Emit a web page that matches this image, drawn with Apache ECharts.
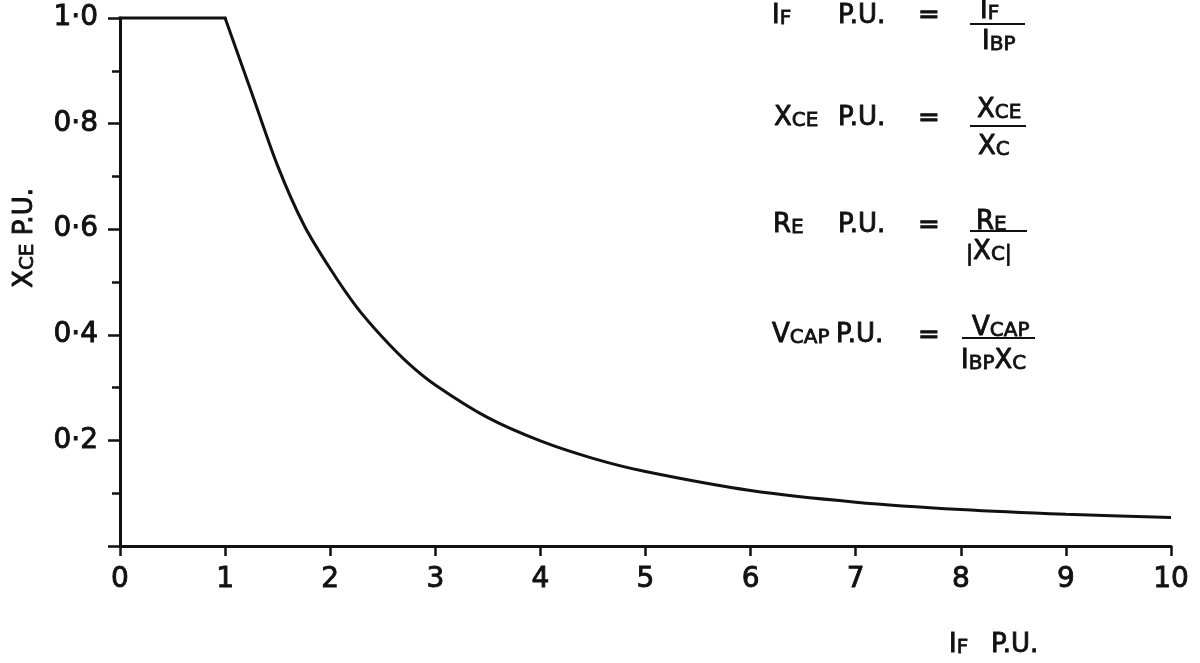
<!DOCTYPE html>
<html>
<head>
<meta charset="utf-8">
<script src="https://cdn.jsdelivr.net/npm/echarts@6/dist/echarts.min.js"></script>
<style>
html,body{margin:0;padding:0;background:#fff;}
#chart{width:1200px;height:663px;}
</style>
</head>
<body>
<div id="chart"></div>
<script>
// ---- data ----
const ifPU = [0, 1, 1.25, 1.5, 1.75, 2, 2.25, 2.5, 2.75, 3, 3.5, 4, 4.5, 5, 6, 7, 8, 9, 10];
const xcePU = [1, 1, 0.86, 0.72, 0.608, 0.525, 0.453, 0.395, 0.345, 0.305, 0.243, 0.199, 0.166, 0.141, 0.105, 0.083, 0.069, 0.060, 0.054];
const xTickLabels = ['0', '1', '2', '3', '4', '5', '6', '7', '8', '9', '10'];
const yTickLabels = ['', '0·2', '0·4', '0·6', '0·8', '1·0'];

const FONT = '"DejaVu Sans", sans-serif';
const INK = '#111';
const BIG = 26, SMALL = 20;
const rich = {
  b: {fontSize: BIG, fontFamily: FONT, fill: INK, verticalAlign: 'bottom', lineHeight: 30, stroke: INK, lineWidth: 0.9},
  s: {fontSize: SMALL, fontFamily: FONT, fill: INK, verticalAlign: 'bottom', lineHeight: 30, stroke: INK, lineWidth: 0.8},
  p: {fontSize: 21, fontFamily: FONT, fill: INK, verticalAlign: 'bottom', lineHeight: 30, stroke: INK, lineWidth: 0.8}
};

function txt(str, x, y) {
  return {
    type: 'text', x: x, y: y, silent: true,
    style: {text: str, rich: rich, fill: INK, align: 'left', verticalAlign: 'middle', fontSize: BIG, fontFamily: FONT}
  };
}
function bar(x1, x2, y) {
  return {type: 'line', silent: true, shape: {x1: x1, y1: y, x2: x2, y2: y}, style: {stroke: INK, lineWidth: 2.2}};
}

const graphics = [
  // row 1
  txt('{b|I}{s|F}', 772, 14), txt('{b|P.U.}', 838, 14), txt('{b|=}', 918, 14),
  txt('{b|I}{s|F}', 980, 9), bar(970, 1025, 24), txt('{b|I}{s|BP}', 982, 40),
  // row 2
  txt('{b|X}{s|CE}', 774, 116), txt('{b|P.U.}', 838, 116), txt('{b|=}', 918, 117),
  txt('{b|X}{s|CE}', 977, 108), bar(970, 1026, 126), txt('{b|X}{s|C}', 978, 145),
  // row 3
  txt('{b|R}{s|E}', 773, 223), txt('{b|P.U.}', 838, 223), txt('{b|=}', 918, 224),
  txt('{b|R}{s|E}', 976, 220), bar(970, 1027, 231), txt('{p||}{b|X}{s|C}{p||}', 966, 250),
  // row 4
  txt('{b|V}{s|CAP}', 772, 333), txt('{b|P.U.}', 836, 333), txt('{b|=}', 918, 334),
  txt('{b|V}{s|CAP}', 972, 326), bar(962, 1035, 338), txt('{b|I}{s|BP}{b|X}{s|C}', 961, 359),
  // x-axis title
  txt('{b|I}{s|F}', 949, 643), txt('{b|P.U.}', 991, 643),
  // y-axis title (rotated)
  {
    type: 'text', x: 23, y: 238, rotation: Math.PI / 2, silent: true,
    style: {text: '{b|X}{s|CE} {b|P.U.}', rich: rich, fill: INK, align: 'center', verticalAlign: 'middle', fontSize: BIG, fontFamily: FONT}
  }
];

const pts = ifPU.map(function (x, i) { return [x, xcePU[i]]; });

const chart = echarts.init(document.getElementById('chart'), null, {renderer: 'canvas'});
chart.setOption({
  backgroundColor: '#fff',
  animation: false,
  grid: {left: 120, right: 29, top: 18, bottom: 117, containLabel: false, outerBoundsMode: 'none'},
  xAxis: {
    type: 'value', min: 0, max: 10, interval: 1,
    axisLine: {show: true, onZero: true, lineStyle: {color: INK, width: 3}},
    axisTick: {show: true, length: 10, lineStyle: {color: INK, width: 2.5}},
    splitLine: {show: false},
    axisLabel: {
      margin: 20, fontSize: 28, fontFamily: FONT, color: INK,
      textBorderColor: INK, textBorderWidth: 0.9,
      formatter: function (v) { return xTickLabels[Math.round(v)]; }
    }
  },
  yAxis: {
    type: 'value', min: 0, max: 1, interval: 0.2,
    axisLine: {show: true, lineStyle: {color: INK, width: 3}},
    axisTick: {show: true, length: 12, lineStyle: {color: INK, width: 2.5}},
    minorTick: {show: true, splitNumber: 2, length: 8, lineStyle: {color: INK, width: 2.5}},
    splitLine: {show: false},
    minorSplitLine: {show: false},
    axisLabel: {
      margin: 22, fontSize: 28, fontFamily: FONT, color: INK,
      textBorderColor: INK, textBorderWidth: 0.9,
      formatter: function (v) { return yTickLabels[Math.round(v * 5)]; }
    }
  },
  series: [{
    // flat limit segment
    type: 'line',
    data: pts.slice(0, 2),
    showSymbol: false, symbol: 'none',
    lineStyle: {color: INK, width: 3, cap: 'square'},
    clip: false
  }, {
    // decaying part
    type: 'line',
    data: pts.slice(1),
    showSymbol: false, symbol: 'none',
    smooth: 0.3,
    lineStyle: {color: INK, width: 3},
    clip: false
  }],
  graphic: graphics
});
</script>
</body>
</html>
